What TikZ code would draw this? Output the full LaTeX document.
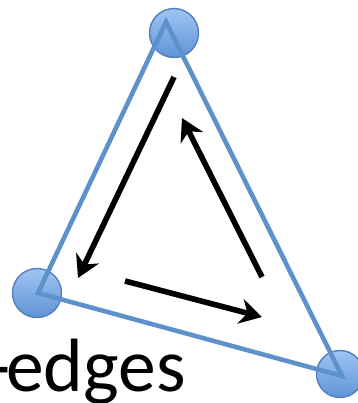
\documentclass[tikz,border=0pt]{standalone}
\usepackage{fontspec}
\setmainfont{Carlito}
\usetikzlibrary{arrows.meta}

\definecolor{edgeblue}{RGB}{94,144,204}
\definecolor{ballhi}{RGB}{160,196,242}
\definecolor{balllo}{RGB}{96,148,214}
\definecolor{ballrim}{RGB}{80,128,190}

\begin{document}
\begin{tikzpicture}[
  x=0.02cm, y=-0.02cm,
  line cap=round,
  line join=miter,
  vertex/.style={circle,draw=ballrim,line width=0.8pt,
    top color=ballhi,bottom color=balllo,minimum size=0.98cm,inner sep=0pt},
  side/.style={draw=edgeblue,line width=2.6pt},
  flow/.style={line width=3.2pt,line cap=butt,
    -{Stealth[length=0.44cm,width=0.5cm,inset=0.14cm]}},
  label/.style={font=\fontsize{43}{52}\selectfont,inner sep=0pt}
]
\useasboundingbox (0,0) rectangle (358,403);

% ------------------------------------------------------------------
% Vertices
% ------------------------------------------------------------------
\node[vertex] (top) at (174,33) {};
\node[vertex] (left) at (37,293) {};
\node[vertex,minimum size=0.94cm] (right) at (340,374) {};

\coordinate (T) at (166,22);
\coordinate (L) at (38,293);
\coordinate (R) at (342,376);

\draw[side] (T)--(L)--(R)--cycle;

% ------------------------------------------------------------------
% Circulation
% ------------------------------------------------------------------
\coordinate (a1) at (174,77);
\coordinate (a2) at (78,278);
\coordinate (b1) at (125,281);
\coordinate (b2) at (262,317);
\coordinate (c1) at (262,277);
\coordinate (c2) at (182,118);

\draw[flow] (a1)--(a2);
\draw[flow] (b1)--(b2);
\draw[flow] (c1)--(c2);

\node[label,anchor=base east] (name) at (186,391) {-\kern-2.5pt edges};

\end{tikzpicture}
\end{document}
